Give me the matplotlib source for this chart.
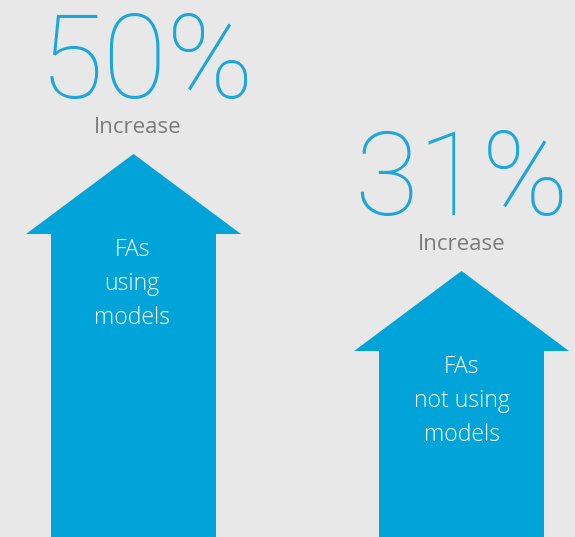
import matplotlib
matplotlib.use("Agg")
import matplotlib.pyplot as plt
from matplotlib.patches import FancyArrow

# data
groups = ["FAs\nusing\nmodels", "FAs\nnot using\nmodels"]
increase_pct = [50, 31]
sub_label = "Increase"

# style
bg = "#e8e8e8"
blue = "#00a4d9"
num_blue = "#1ba6dc"
gray = "#7b7b7b"

fig = plt.figure(figsize=(5.75, 5.37), dpi=100)
fig.patch.set_facecolor(bg)
ax = fig.add_axes([0, 0, 1, 1])
ax.set_facecolor(bg)
ax.set_xlim(-0.407, 1.346)
ax.set_ylim(-12.2, 75)
ax.axis("off")

base = -12.2
head_len = 13.0
for i, (lab, v) in enumerate(zip(groups, increase_pct)):
    arr = FancyArrow(i, base, 0, v - base, width=0.503, head_width=0.655,
                     head_length=head_len, length_includes_head=True,
                     color=blue, lw=0)
    ax.add_patch(arr)
    # big number above arrow tip
    ax.annotate(f"{v}%", (i, v), xytext=(10 if i == 0 else 0, 40),
                textcoords="offset points", ha="center", va="baseline",
                fontsize=84, color=num_blue, family="Roboto", fontweight=200)
    ax.annotate(sub_label, (i, v), xytext=(3 if i == 0 else 0, 15),
                textcoords="offset points", ha="center", va="baseline",
                fontsize=16, color=gray, family="Open Sans")
    # label inside arrow
    ax.annotate(lab, (i, v - head_len), xytext=(-1 if i == 0 else 0, -3),
                textcoords="offset points", ha="center", va="top",
                fontsize=16.5, color="white", family="Open Sans", fontweight=300,
                linespacing=1.55)

fig.savefig("out.png", dpi=100, facecolor=bg)
